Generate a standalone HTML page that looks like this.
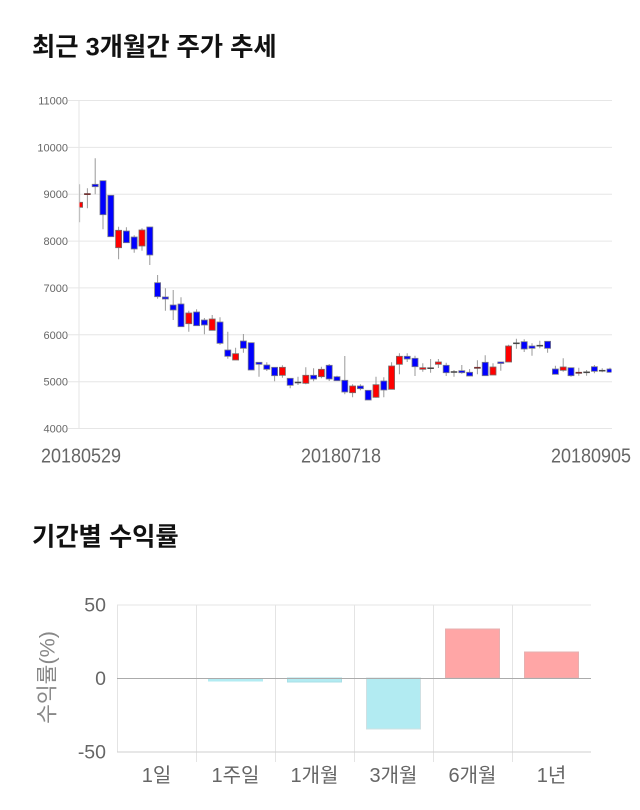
<!DOCTYPE html>
<html><head><meta charset="utf-8">
<style>
html,body{margin:0;padding:0;background:#fff;}
svg{display:block;}
</style></head>
<body>
<svg width="640" height="810" viewBox="0 0 640 810" xmlns="http://www.w3.org/2000/svg">
<rect width="640" height="810" fill="#fff"/>
<text x="32" y="55.5" font-family="'Liberation Sans','Noto Sans CJK KR',sans-serif" font-weight="bold" font-size="25.3" fill="#111">최근 3개월간 주가 추세</text>
<g stroke="#e6e6e6" stroke-width="1">
<line x1="68" y1="100.5" x2="612" y2="100.5"/>
<line x1="68" y1="147.4" x2="612" y2="147.4"/>
<line x1="68" y1="194.2" x2="612" y2="194.2"/>
<line x1="68" y1="241.1" x2="612" y2="241.1"/>
<line x1="68" y1="287.9" x2="612" y2="287.9"/>
<line x1="68" y1="334.8" x2="612" y2="334.8"/>
<line x1="68" y1="381.7" x2="612" y2="381.7"/>
<line x1="68" y1="428.5" x2="612" y2="428.5"/>
<line x1="79" y1="100" x2="79" y2="429"/>
</g>
<g font-family="'Liberation Sans',sans-serif" font-size="11" fill="#666" text-anchor="end">
<text x="68" y="104.5">11000</text>
<text x="68" y="151.4">10000</text>
<text x="68" y="198.2">9000</text>
<text x="68" y="245.1">8000</text>
<text x="68" y="291.9">7000</text>
<text x="68" y="338.8">6000</text>
<text x="68" y="385.7">5000</text>
<text x="68" y="432.5">4000</text>
</g>
<g font-family="'Liberation Sans',sans-serif" font-size="20" fill="#666">
<text x="41" y="462.7" textLength="80" lengthAdjust="spacingAndGlyphs">20180529</text>
<text x="301" y="462.7" textLength="80" lengthAdjust="spacingAndGlyphs">20180718</text>
<text x="551" y="462.7" textLength="80" lengthAdjust="spacingAndGlyphs">20180905</text>
</g>
<defs><clipPath id="pc"><rect x="79.5" y="95" width="532" height="340"/></clipPath></defs>
<g clip-path="url(#pc)">
<path stroke="#9a9a9a" stroke-width="1" fill="none" d="M79.6 184.3V222.3 M87.4 188.3V208.3 M95.2 158.3V194.3 M103 180.7V229.3 M110.8 195.3V236.7 M118.6 226.7V259.3 M126.4 227.3V242.7 M134.2 235.3V252.7 M142 228.3V250.7 M149.8 227V265 M157.6 275V298.7 M165.4 288.3V310.7 M173.2 290V320 M181 297.3V326.7 M188.8 310.7V331.7 M196.6 309.3V325.7 M204.4 318V334.3 M212.2 315V330.3 M220 317.3V344.7 M227.8 331.7V358.7 M235.6 347.7V360 M243.4 334V352.7 M251.2 342.7V370 M259 362.3V376.7 M266.8 362.3V371 M274.6 367.3V381.3 M282.4 365.3V377.7 M290.2 378.3V388.3 M298 376.7V385 M305.8 367.3V384.3 M313.6 368.3V381.3 M321.4 366.7V378.3 M329.2 364V381 M337 375.7V380.7 M344.8 356V394.3 M352.6 384.3V397.3 M360.4 384.3V390.3 M368.2 390.3V400 M376 376.7V397.7 M383.8 377.3V397.3 M391.6 362.3V389.3 M399.4 353.3V374.3 M407.2 353.3V362 M415 355.7V376 M422.8 363.3V371.7 M430.6 359V372.7 M438.4 359V368 M446.2 362.7V376 M454 370V376.7 M461.8 365V373.7 M469.6 369V376 M477.4 360.3V374.3 M485.2 355.3V375.7 M493 363.3V375 M500.8 362V370.7 M508.6 344.7V362 M516.4 338.7V348.7 M524.2 339.3V352 M532 343.3V355.7 M539.8 340.7V348.3 M547.6 341.3V352.7 M555.4 365.7V374.3 M563.2 358.3V371.7 M571 367.7V376.7 M578.8 367.7V375.7 M586.6 370V375.7 M594.4 365V373.3 M602.2 368.3V372.3 M610 367.7V372.3"/>
<g fill="#0000ff" stroke="#7a7a8a" stroke-width="0.8">
<rect x="92.2" y="184.3" width="6" height="2.4"/>
<rect x="100" y="180.7" width="6" height="34"/>
<rect x="107.8" y="195.3" width="6" height="41.4"/>
<rect x="123.4" y="231" width="6" height="11.7"/>
<rect x="131.2" y="237" width="6" height="12"/>
<rect x="146.8" y="227" width="6" height="28"/>
<rect x="154.6" y="282.7" width="6" height="14"/>
<rect x="162.4" y="297" width="6" height="2"/>
<rect x="170.2" y="305" width="6" height="5"/>
<rect x="178" y="304" width="6" height="22.7"/>
<rect x="193.6" y="312" width="6" height="13.7"/>
<rect x="201.4" y="320" width="6" height="5"/>
<rect x="217" y="322" width="6" height="21.3"/>
<rect x="224.8" y="350" width="6" height="6.3"/>
<rect x="240.4" y="341" width="6" height="7.3"/>
<rect x="248.2" y="342.7" width="6" height="27.3"/>
<rect x="256" y="362.3" width="6" height="2"/>
<rect x="263.8" y="365" width="6" height="4.3"/>
<rect x="271.6" y="367.3" width="6" height="8.4"/>
<rect x="287.2" y="378.3" width="6" height="7"/>
<rect x="310.6" y="375.3" width="6" height="3.7"/>
<rect x="326.2" y="365.3" width="6" height="13.7"/>
<rect x="334" y="376.7" width="6" height="4"/>
<rect x="341.8" y="380.3" width="6" height="11.7"/>
<rect x="357.4" y="386" width="6" height="2.7"/>
<rect x="365.2" y="390.3" width="6" height="9.7"/>
<rect x="380.8" y="381" width="6" height="9"/>
<rect x="404.2" y="356.3" width="6" height="2.7"/>
<rect x="412" y="358.3" width="6" height="8.4"/>
<rect x="443.2" y="365.3" width="6" height="7.4"/>
<rect x="458.8" y="370.7" width="6" height="2"/>
<rect x="466.6" y="372.3" width="6" height="3.7"/>
<rect x="482.2" y="362.3" width="6" height="13.4"/>
<rect x="497.8" y="362" width="6" height="1.5"/>
<rect x="521.2" y="341.7" width="6" height="7.3"/>
<rect x="529" y="346" width="6" height="2.3"/>
<rect x="544.6" y="341.3" width="6" height="7"/>
<rect x="552.4" y="369" width="6" height="5.3"/>
<rect x="568" y="367.7" width="6" height="8"/>
<rect x="591.4" y="366.7" width="6" height="4.6"/>
<rect x="607" y="369" width="6" height="3.3"/>
</g>
<g fill="#ff0000" stroke="#7a6a6a" stroke-width="0.8">
<rect x="76.6" y="202.3" width="6" height="5"/>
<rect x="115.6" y="230.3" width="6" height="17.4"/>
<rect x="139" y="230" width="6" height="16"/>
<rect x="185.8" y="313" width="6" height="10.7"/>
<rect x="209.2" y="319" width="6" height="11.3"/>
<rect x="232.6" y="353.7" width="6" height="6.3"/>
<rect x="279.4" y="367.3" width="6" height="8"/>
<rect x="302.8" y="375.3" width="6" height="8"/>
<rect x="318.4" y="369.3" width="6" height="7.4"/>
<rect x="349.6" y="386" width="6" height="6.7"/>
<rect x="373" y="384.7" width="6" height="12.6"/>
<rect x="388.6" y="366" width="6" height="23.3"/>
<rect x="396.4" y="356.3" width="6" height="8"/>
<rect x="419.8" y="367.7" width="6" height="1.6"/>
<rect x="435.4" y="362" width="6" height="2.3"/>
<rect x="490" y="367" width="6" height="8"/>
<rect x="505.6" y="346" width="6" height="16"/>
<rect x="560.2" y="367" width="6" height="3.3"/>
</g>
<g fill="#8a1010" stroke="#6a4a4a" stroke-width="0.6">
<rect x="84.4" y="193.5" width="6" height="1.2"/>
<rect x="474.4" y="367.2" width="6" height="1.2"/>
<rect x="575.8" y="372.2" width="6" height="1.2"/>
</g>
<g fill="#333" stroke="#555" stroke-width="0.6">
<rect x="295" y="382" width="6" height="1"/>
<rect x="427.6" y="367.7" width="6" height="1"/>
<rect x="451" y="371.5" width="6" height="1"/>
<rect x="513.4" y="342.8" width="6" height="1"/>
<rect x="536.8" y="345.2" width="6" height="1"/>
<rect x="583.6" y="371.8" width="6" height="1"/>
<rect x="599.2" y="370.2" width="6" height="1"/>
</g>
</g>
<text x="32" y="545.5" font-family="'Liberation Sans','Noto Sans CJK KR',sans-serif" font-weight="bold" font-size="25.3" fill="#111">기간별 수익률</text>
<g stroke="#e4e4e4" stroke-width="1">
<line x1="117" y1="605" x2="591" y2="605"/>
<line x1="117.5" y1="605" x2="117.5" y2="752"/>
<line x1="196.5" y1="605" x2="196.5" y2="762"/>
<line x1="275.5" y1="605" x2="275.5" y2="762"/>
<line x1="354.5" y1="605" x2="354.5" y2="762"/>
<line x1="433.5" y1="605" x2="433.5" y2="762"/>
<line x1="512.5" y1="605" x2="512.5" y2="762"/>
</g>
<line x1="117" y1="752" x2="591" y2="752" stroke="#cfcfcf" stroke-width="1"/>
<g stroke-width="1">
<rect x="208.5" y="679" width="54" height="2" fill="#b2ebf2" stroke="#b2ebf2"/>
<rect x="287.5" y="678" width="54" height="4" fill="#b2ebf2" stroke="#a8dfe6"/>
<rect x="366.5" y="678" width="54" height="51" fill="#b2ebf2" stroke="#cfe0e3"/>
<rect x="445.5" y="629" width="54" height="49" fill="#ffa6a6" stroke="#e6b0b0"/>
<rect x="524.5" y="652" width="54" height="26" fill="#ffa6a6" stroke="#e6b0b0"/>
</g>
<line x1="117" y1="678.5" x2="591" y2="678.5" stroke="#ababab" stroke-width="1"/>
<g font-family="'Liberation Sans',sans-serif" font-size="19.5" fill="#666" text-anchor="end">
<text x="106" y="611.7">50</text>
<text x="106" y="685">0</text>
<text x="106" y="758.5">-50</text>
</g>
<text transform="translate(47.5,677.5) rotate(-90)" text-anchor="middle" dominant-baseline="central" font-family="'Liberation Sans','Noto Sans CJK KR',sans-serif" font-size="21.5" fill="#888">수익률(%)</text>
<g font-family="'Liberation Sans','Noto Sans CJK KR',sans-serif" font-size="20" fill="#666" text-anchor="middle">
<text x="156.5" y="782">1일</text>
<text x="235.5" y="782">1주일</text>
<text x="314.5" y="782">1개월</text>
<text x="393.5" y="782">3개월</text>
<text x="472.5" y="782">6개월</text>
<text x="551.5" y="782">1년</text>
</g>
</svg>
</body></html>
